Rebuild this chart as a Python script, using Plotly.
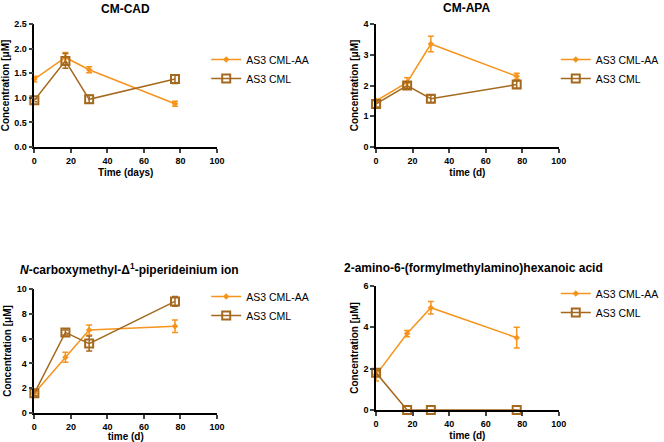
import plotly.graph_objects as go

W, H = 664, 442
days = [0, 17, 30, 77]

# Panel data: (mean, sd)
cad_aa = [1.38, 1.82, 1.57, 0.88]
cad_aa_err = [0.06, 0.10, 0.06, 0.05]
cad_cml = [0.95, 1.75, 0.97, 1.38]
cad_cml_err = [0.03, 0.15, 0.08, 0.09]

apa_aa = [1.50, 2.10, 3.35, 2.30]
apa_aa_err = [0.05, 0.15, 0.25, 0.10]
apa_cml = [1.40, 2.00, 1.57, 2.03]
apa_cml_err = [0.10, 0.10, 0.12, 0.12]

pip_aa = [1.60, 4.50, 6.70, 7.00]
pip_aa_err = [0.20, 0.40, 0.40, 0.50]
pip_cml = [1.60, 6.50, 5.60, 9.00]
pip_cml_err = [0.20, 0.20, 0.60, 0.40]

hex_aa = [1.70, 3.70, 4.95, 3.50]
hex_aa_err = [0.30, 0.15, 0.30, 0.50]
hex_cml = [1.80, 0.0, 0.0, 0.0]
hex_cml_err = [0.10, 0.0, 0.0, 0.0]

titles = ["CM-CAD", "CM-APA",
          "<i>N</i>-carboxymethyl-Δ<sup>1</sup>-piperideinium ion",
          "2-amino-6-(formylmethylamino)hexanoic acid"]
xtitles = ["Time (days)", "time (d)", "time (d)", "time (d)"]
yranges = [(0, 2.5, 0.5), (0, 4, 1), (0, 10, 2), (0, 6, 2)]
ytickfmt = [".1f", "d", "d", "d"]

ORANGE = "#F7941D"
BROWN = "#A5691E"

# pixel boxes: (left, right, top, bottom)
boxes = [(35, 221, 24, 147), (383, 569, 24, 147),
         (35, 221, 289, 413), (383, 569, 286, 410)]
legend_pos = [(210, 45), (566, 45), (210, 282), (566, 279)]
title_pos = [(128, 9, "center"), (475, 8, "center"), (18, 269, "left"), (348, 268, "left")]

data = [(cad_aa, cad_aa_err, cad_cml, cad_cml_err),
        (apa_aa, apa_aa_err, apa_cml, apa_cml_err),
        (pip_aa, pip_aa_err, pip_cml, pip_cml_err),
        (hex_aa, hex_aa_err, hex_cml, hex_cml_err)]

fig = go.Figure()
font = "Liberation Sans, Arial, sans-serif"
annotations = []
for i in range(4):
    aa, aae, cml, cmle = data[i]
    sfx = "" if i == 0 else str(i + 1)
    lg = "legend" if i == 0 else "legend" + str(i + 1)
    fig.add_trace(go.Scatter(
        x=days, y=aa, mode="lines+markers", name="AS3 CML-AA",
        line=dict(color=ORANGE, width=1.5),
        marker=dict(symbol="diamond", size=5, color=ORANGE),
        error_y=dict(type="data", array=aae, color=ORANGE, thickness=1.5, width=3),
        xaxis="x" + sfx, yaxis="y" + sfx, legend=lg, cliponaxis=False))
    fig.add_trace(go.Scatter(
        x=days, y=cml, mode="lines+markers", name="AS3 CML",
        line=dict(color=BROWN, width=1.5),
        marker=dict(symbol="square-open", size=8, color=BROWN, line=dict(width=2)),
        error_y=dict(type="data", array=cmle, color=BROWN, thickness=1.5, width=3),
        xaxis="x" + sfx, yaxis="y" + sfx, legend=lg, cliponaxis=False))

    l, r, t, b = boxes[i]
    y0, y1, dt = yranges[i]
    fig.update_layout(**{
        "xaxis" + sfx: dict(
            domain=[l / W, r / W], range=[0, 100], dtick=20, anchor="y" + sfx,
            automargin=False,
            showline=True, linecolor="black", linewidth=1.5, ticks="outside",
            ticklen=4, tickwidth=1.5, showgrid=False, zeroline=False,
            tickfont=dict(family=font, size=9, color="black", weight="bold"),
            title=dict(text="<b>" + xtitles[i] + "</b>", standoff=4,
                       font=dict(family=font, size=10, color="black"))),
        "yaxis" + sfx: dict(
            domain=[1 - b / H, 1 - t / H], range=[y0, y1], dtick=dt, anchor="x" + sfx,
            automargin=False,
            showline=True, linecolor="black", linewidth=1.5, ticks="outside",
            ticklen=4, tickwidth=1.5, showgrid=False, zeroline=False,
            tickformat=ytickfmt[i],
            tickfont=dict(family=font, size=9, color="black", weight="bold"),
            title=dict(text="<b>Concentration [μM]</b>", standoff=3,
                       font=dict(family=font, size=10, color="black"))),
        lg: dict(x=legend_pos[i][0] / W, y=1 - legend_pos[i][1] / H,
                 xanchor="left", yanchor="top", bgcolor="rgba(0,0,0,0)",
                 font=dict(family=font, size=10.5, color="black"),
                 tracegroupgap=0, itemwidth=30),
    })
    tx, ty, al = title_pos[i]
    annotations.append(dict(
        text="<b>" + titles[i] + "</b>", x=tx / W, y=1 - ty / H, xref="paper", yref="paper",
        xanchor=al, yanchor="middle", showarrow=False,
        font=dict(family=font, size=12, color="black")))

fig.update_layout(width=W, height=H, margin=dict(l=0, r=0, t=0, b=0),
                  plot_bgcolor="white", paper_bgcolor="white",
                  annotations=annotations, showlegend=True)
fig.write_html("out.html", config={"displayModeBar": False},
               post_script="document.body.style.margin='0';document.body.style.overflow='hidden';")
